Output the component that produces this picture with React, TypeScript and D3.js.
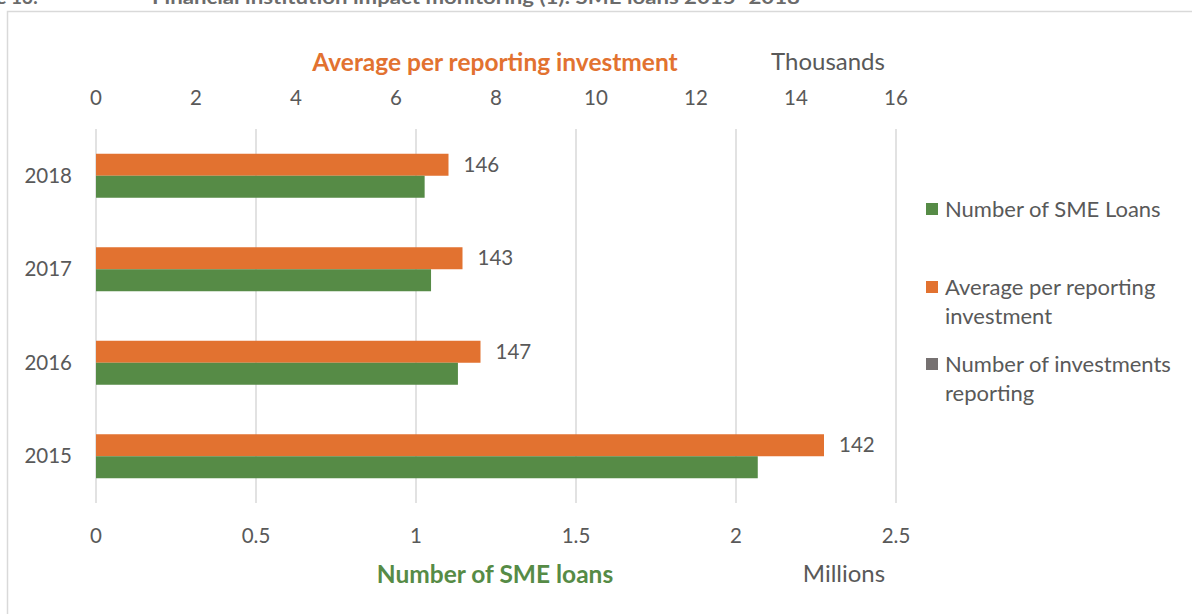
import React from "react";
import * as d3 from "d3";

const years = ["2018", "2017", "2016", "2015"];
const avgPerInvestmentThousands = [7.05, 7.33, 7.69, 14.56];
const smeLoansMillions = [1.027, 1.047, 1.131, 2.068];
const investmentsReporting = [146, 143, 147, 142];
const topTicks = [0, 2, 4, 6, 8, 10, 12, 14, 16];
const bottomTicks = [0, 0.5, 1, 1.5, 2, 2.5];
const legendItems = [
  { lines: ["Number of SME Loans"], color: "#568B46" },
  { lines: ["Average per reporting", "investment"], color: "#E27230" },
  { lines: ["Number of investments", "reporting"], color: "#767171" },
];

const W = 1192;
const H = 614;
const FONT = "Lato, 'Open Sans', sans-serif";
const GRAY = "#595959";
const ORANGE = "#E27230";
const GREEN = "#568B46";

export default function App() {
  const left = 96;
  const right = 896;
  const top = 129;
  const bottom = 503;

  const xTop = d3.scaleLinear().domain([0, 16]).range([left, right]);
  const xBottom = d3.scaleLinear().domain([0, 2.5]).range([left, right]);
  const yBand = d3.scaleBand<string>().domain(years).range([top, bottom]);
  const barH = 22;

  return (
    <div style={{ position: "fixed", left: 0, top: 0 }}>
      <svg width={W} height={H} style={{ display: "block", fontFamily: FONT }}>
        <rect width={W} height={H} fill="#ffffff" />
        {/* clipped figure title */}
        <text x={38} y={4} textAnchor="end" fontSize={19} fontWeight="bold" fill="#6b6b6b">
          Figure 13:
        </text>
        <text x={152} y={4} fontSize={19} fontWeight="bold" fill="#6b6b6b" textLength={648} lengthAdjust="spacingAndGlyphs">
          Financial institution impact monitoring (1): SME loans 2015–2018
        </text>
        {/* chart frame */}
        <path d={`M7.5,${H} V11.5 H${W}`} fill="none" stroke="#d9d9d9" strokeWidth={1.5} />

        {/* gridlines */}
        {bottomTicks.map((t) => (
          <line key={"g" + t} x1={xBottom(t)} x2={xBottom(t)} y1={top} y2={bottom} stroke="#d9d9d9" strokeWidth={1.5} />
        ))}

        {/* bars */}
        {years.map((yr, i) => {
          const c = (yBand(yr) as number) + yBand.bandwidth() / 2;
          return (
            <g key={yr}>
              <rect x={xTop(0)} y={c - barH} width={xTop(avgPerInvestmentThousands[i]) - xTop(0)} height={barH} fill={ORANGE} />
              <rect x={xBottom(0)} y={c} width={xBottom(smeLoansMillions[i]) - xBottom(0)} height={barH} fill={GREEN} />
              <text x={xTop(avgPerInvestmentThousands[i]) + 15} y={c - barH / 2} dy="0.35em" fontSize={20.5} fill={GRAY}>
                {investmentsReporting[i]}
              </text>
              <text x={72} y={c} dy="0.35em" textAnchor="end" fontSize={20.5} fill={GRAY}>
                {yr}
              </text>
            </g>
          );
        })}

        {/* top axis */}
        {topTicks.map((t) => (
          <text key={"t" + t} x={xTop(t)} y={98} dy="0.35em" textAnchor="middle" fontSize={20.5} fill={GRAY}>
            {t}
          </text>
        ))}
        <text x={495} y={62} dy="0.35em" textAnchor="middle" fontSize={24.5} fontWeight="bold" fill={ORANGE}>
          Average per reporting investment
        </text>
        <text x={828} y={62} dy="0.35em" textAnchor="middle" fontSize={24} fill={GRAY}>
          Thousands
        </text>

        {/* bottom axis */}
        {bottomTicks.map((t) => (
          <text key={"b" + t} x={xBottom(t)} y={536} dy="0.35em" textAnchor="middle" fontSize={20.5} fill={GRAY}>
            {t}
          </text>
        ))}
        <text x={495} y={574} dy="0.35em" textAnchor="middle" fontSize={24.5} fontWeight="bold" fill={GREEN}>
          Number of SME loans
        </text>
        <text x={844} y={574} dy="0.35em" textAnchor="middle" fontSize={24} fill={GRAY}>
          Millions
        </text>

        {/* legend */}
        {legendItems.map((it, i) => {
          const y0 = [209, 287, 364][i];
          return (
            <g key={"l" + i}>
              <rect x={926} y={y0 - 6} width={12} height={12} fill={it.color} />
              {it.lines.map((ln, j) => (
                <text key={j} x={945} y={y0 + j * 29} dy="0.35em" fontSize={22} fill={GRAY}>
                  {ln}
                </text>
              ))}
            </g>
          );
        })}
      </svg>
    </div>
  );
}
